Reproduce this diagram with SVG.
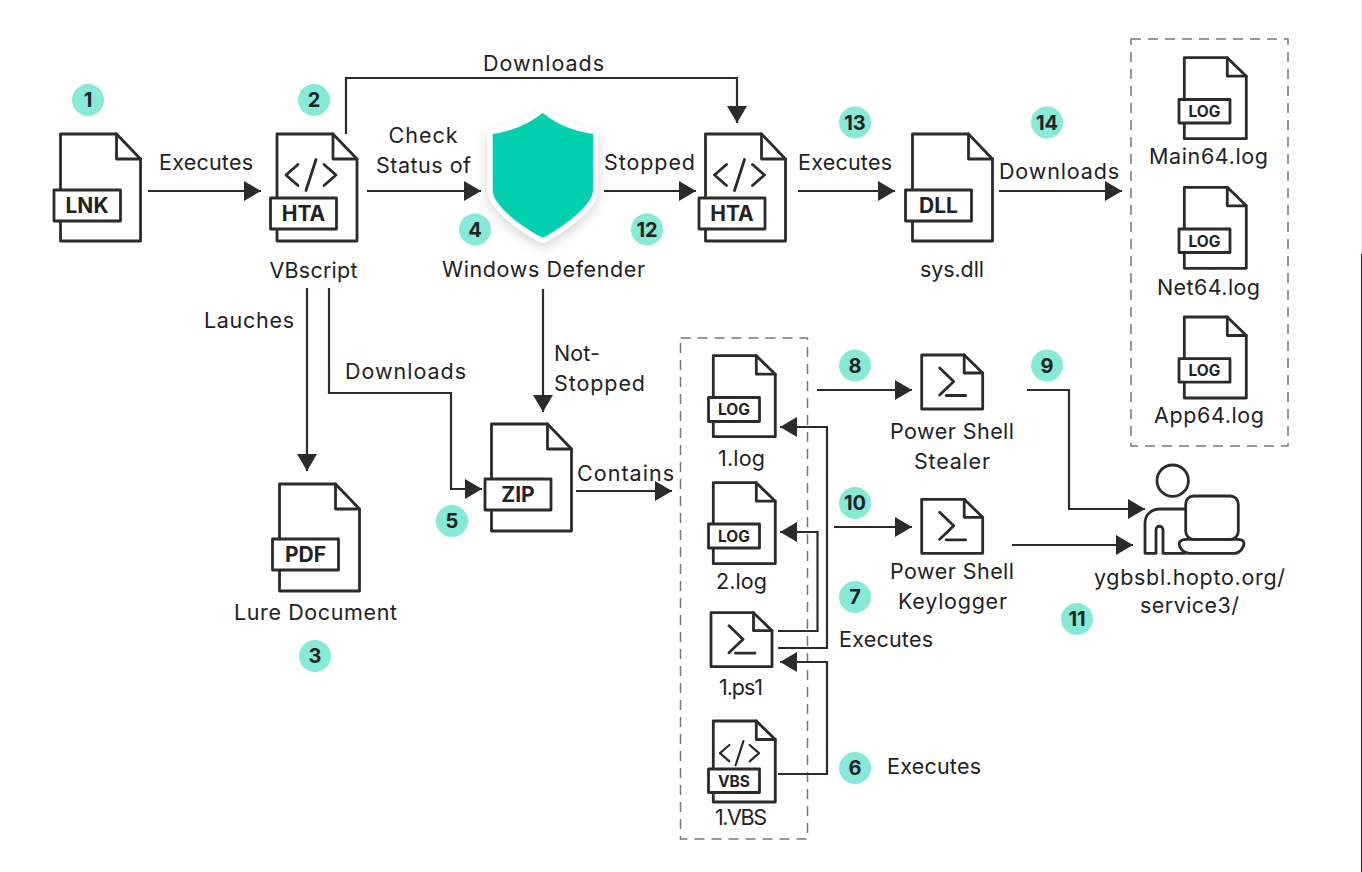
<svg xmlns="http://www.w3.org/2000/svg" width="1362" height="872" viewBox="0 0 1362 872">
<style>
text{font-family:"Inter","Noto Sans","Liberation Sans",sans-serif;fill:#222;font-size:21.5px;text-anchor:middle}
.b{font-weight:700;font-size:21px;fill:#222}
.s{font-weight:700;font-size:15.5px}
.n{font-weight:700;font-size:20px}
.d{fill:#fff;stroke:#2b2b2b;stroke-width:2.8;stroke-linejoin:round;stroke-linecap:round}
.l{fill:none;stroke:#2b2b2b;stroke-width:2.2;marker-end:url(#a)}
.t{fill:none;stroke:#2b2b2b;stroke-width:2.8;stroke-linecap:round;stroke-linejoin:round}
.x{fill:none;stroke:#777;stroke-width:1.5;stroke-dasharray:10 7}
.c{fill:#87e9d7}
</style>
<defs>
<marker id="a" markerUnits="userSpaceOnUse" markerWidth="18" markerHeight="20" refX="17" refY="10" orient="auto"><path d="M0 0L17 10L0 20Z" fill="#2b2b2b"/></marker>
<g id="big"><path class="d" d="M0 0H56L80 25V107H0Z"/><path class="t" d="M56 0V25H80"/></g>
<g id="small"><path class="d" d="M0 0H43L62 18.500V81H0Z"/><path class="t" d="M43 0V18.500H62"/></g>
<g id="ps"><path class="d" d="M0 0H42.500L61 18V54H0Z"/><path class="t" d="M42.500 0V18H61M18 13L32 26.500L18 40M24.500 40.500H44"/></g>
<g id="code"><path class="t" d="M12 0L0 10.500L12 21M38 0L50 10.500L38 21M30 -5L20 26"/></g>
<filter id="sh" x="-30%" y="-30%" width="160%" height="160%"><feDropShadow dx="0" dy="5" stdDeviation="6" flood-color="#000" flood-opacity=".16"/></filter>
</defs>
<rect width="1362" height="872" fill="#fff"/>
<rect x="1361" y="0" width="1" height="254" fill="#e2e6e5"/>
<rect x="1361" y="254" width="1" height="618" fill="#1f1a66"/>
<rect class="x" x="1131" y="39" width="157" height="407"/>
<rect class="x" x="680.500" y="338" width="127" height="501"/>

<g id="connectors">
<path class="l" d="M148 191H261"/>
<path class="l" d="M346 134V78H737V123"/>
<path class="l" d="M367 191H481"/>
<path class="l" d="M604 191H696"/>
<path class="l" d="M798 191H895"/>
<path class="l" d="M999 191H1122"/>
<path class="l" d="M307 288V471"/>
<path class="l" d="M329 288V393H451V489H482"/>
<path class="l" d="M543 289V412"/>
<path class="l" d="M576 491H672"/>
<path class="l" d="M817 390H912"/>
<path class="l" d="M834 527H912"/>
<path class="l" d="M1027 390H1069V509H1145"/>
<path class="l" d="M1012 545H1133"/>
<path class="l" d="M778 631H817.500V532H780"/>
<path class="l" d="M778 648H827V427H780"/>
<path class="l" d="M778 774H827V662H780"/>
<text x="206" y="170" textLength="94">Executes</text>
<text x="543.500" y="71" textLength="121">Downloads</text>
<text x="423" y="143" textLength="69">Check</text>
<text x="423.500" y="173" textLength="95">Status of</text>
<text x="649.500" y="170" textLength="91">Stopped</text>
<text x="845" y="170" textLength="94">Executes</text>
<text x="1059" y="179" textLength="120">Downloads</text>
<text x="249" y="328" textLength="90">Lauches</text>
<text x="405.500" y="379" textLength="121">Downloads</text>
<text x="577" y="361" textLength="46">Not-</text>
<text x="599.500" y="391" textLength="91">Stopped</text>
<text x="625.500" y="481" textLength="97">Contains</text>
<text x="886" y="647" textLength="94">Executes</text>
<text x="934" y="774" textLength="94">Executes</text>
</g>

<g id="lnk"><use href="#big" x="60.500" y="134"/><rect class="d" x="54" y="190" width="66.500" height="31"/><text class="b" x="87" y="213">LNK</text></g>
<g id="vbscript"><use href="#big" x="277" y="134"/><use href="#code" x="286" y="164.500"/><rect class="d" x="270.500" y="198" width="66" height="31"/><text class="b" x="303.500" y="221">HTA</text><text x="313.500" y="278" textLength="88">VBscript</text></g>
<g id="defender"><path d="M542.700 113C527 125 511 131 492.700 134V190C492.700 205 520 226 542.700 237.700C565 226 593 205 593 190V134C574 131 558 125 542.700 113Z" fill="#00cfb0" stroke="#fff" stroke-width="10" stroke-linejoin="round" paint-order="stroke" filter="url(#sh)"/><text x="543.500" y="277" textLength="203">Windows Defender</text></g>
<g id="hta2"><use href="#big" x="705.500" y="134"/><use href="#code" x="714.500" y="164.500"/><rect class="d" x="699" y="198" width="66" height="31"/><text class="b" x="732" y="221">HTA</text></g>
<g id="dll"><use href="#big" x="912.500" y="134"/><rect class="d" x="905.500" y="190" width="66" height="31"/><text class="b" x="938.500" y="213">DLL</text><text x="952" y="277" textLength="64">sys.dll</text></g>
<g id="main64"><use href="#small" x="1184.300" y="57.700"/><rect class="d" x="1179" y="99.500" width="51" height="23.500"/><text class="s" x="1204.500" y="117">LOG</text><text x="1208.500" y="164" textLength="119">Main64.log</text></g>
<g id="net64"><use href="#small" x="1184.300" y="187.300"/><rect class="d" x="1179" y="229" width="51" height="23.500"/><text class="s" x="1204.500" y="246.500">LOG</text><text x="1208.500" y="295" textLength="103">Net64.log</text></g>
<g id="app64"><use href="#small" x="1184.300" y="317"/><rect class="d" x="1179" y="358.700" width="51" height="23.500"/><text class="s" x="1204.500" y="376">LOG</text><text x="1209" y="423" textLength="110">App64.log</text></g>
<g id="pdf"><use href="#big" x="279.500" y="484"/><rect class="d" x="272.500" y="539" width="66" height="31"/><text class="b" x="305.500" y="562">PDF</text><text x="315.500" y="620" textLength="163">Lure Document</text></g>
<g id="zip"><use href="#big" x="491.500" y="424"/><rect class="d" x="485" y="479" width="66" height="31"/><text class="b" x="518" y="502">ZIP</text></g>
<g id="log1"><use href="#small" x="713.300" y="355.700"/><rect class="d" x="708.500" y="397.500" width="51" height="24"/><text class="s" x="734" y="415">LOG</text><text x="741.500" y="466" textLength="47">1.log</text></g>
<g id="log2"><use href="#small" x="713.300" y="482.700"/><rect class="d" x="708.500" y="524" width="51" height="24"/><text class="s" x="734" y="541.500">LOG</text><text x="741.500" y="589" textLength="51">2.log</text></g>
<g id="ps1"><use href="#ps" x="711" y="612.700"/><text x="741" y="695" textLength="44">1.ps1</text></g>
<g id="vbs"><use href="#small" x="713.300" y="721"/><g transform="translate(720 745) scale(.78)"><use href="#code"/></g><rect class="d" x="708.500" y="769" width="51" height="23.500"/><text class="s" x="734" y="786.500">VBS</text><text x="741" y="825" textLength="52">1.VBS</text></g>
<g id="stealer"><use href="#ps" x="921.700" y="355"/><text x="952" y="439" textLength="124">Power Shell</text><text x="952" y="469" textLength="76">Stealer</text></g>
<g id="keylogger"><use href="#ps" x="921.700" y="499.300"/><text x="952" y="579" textLength="124">Power Shell</text><text x="952.500" y="609" textLength="109">Keylogger</text></g>
<g id="c2"><circle class="t" cx="1172.700" cy="480.700" r="15.700"/><rect class="t" x="1185.700" y="496" width="52.600" height="43.300" rx="8"/><path class="t" d="M1185 509H1160C1150 509 1145 516 1145 523V553.300H1156V530C1156 525 1163 525 1163 530V553.300H1185M1186 539.300H1238C1244 539.300 1245 543 1243 547C1241 551 1238 553.300 1234 553.300H1190C1185 553.300 1182 551 1180 547C1178 543 1180 539.300 1186 539.300Z"/><text x="1189.500" y="585" textLength="191">ygbsbl.hopto.org/</text><text x="1189.500" y="613" textLength="99">service3/</text></g>

<g id="badges">
<g id="b1"><circle class="c" cx="88" cy="100" r="16"/><text class="n" x="88" y="107">1</text></g>
<g id="b2"><circle class="c" cx="314" cy="100" r="16"/><text class="n" x="314" y="107">2</text></g>
<g id="b3"><circle class="c" cx="315" cy="656" r="16"/><text class="n" x="315" y="663">3</text></g>
<g id="b4"><circle class="c" cx="475" cy="229.500" r="16"/><text class="n" x="475" y="236.500">4</text></g>
<g id="b5"><circle class="c" cx="452" cy="521" r="16"/><text class="n" x="452" y="528">5</text></g>
<g id="b6"><circle class="c" cx="855" cy="768" r="16"/><text class="n" x="855" y="775">6</text></g>
<g id="b7"><circle class="c" cx="855" cy="597" r="16"/><text class="n" x="855" y="604">7</text></g>
<g id="b8"><circle class="c" cx="855" cy="365.500" r="16"/><text class="n" x="855" y="372.500">8</text></g>
<g id="b9"><circle class="c" cx="1047" cy="365.500" r="16"/><text class="n" x="1047" y="372.500">9</text></g>
<g id="b10"><circle class="c" cx="855" cy="503" r="16"/><text class="n" x="855" y="510">10</text></g>
<g id="b11"><circle class="c" cx="1077" cy="619" r="16"/><text class="n" x="1077" y="626">11</text></g>
<g id="b12"><circle class="c" cx="647" cy="229.500" r="16"/><text class="n" x="647" y="236.500">12</text></g>
<g id="b13"><circle class="c" cx="855" cy="122.500" r="16"/><text class="n" x="855" y="129.500">13</text></g>
<g id="b14"><circle class="c" cx="1047" cy="122.500" r="16"/><text class="n" x="1047" y="129.500">14</text></g>
</g>
</svg>
